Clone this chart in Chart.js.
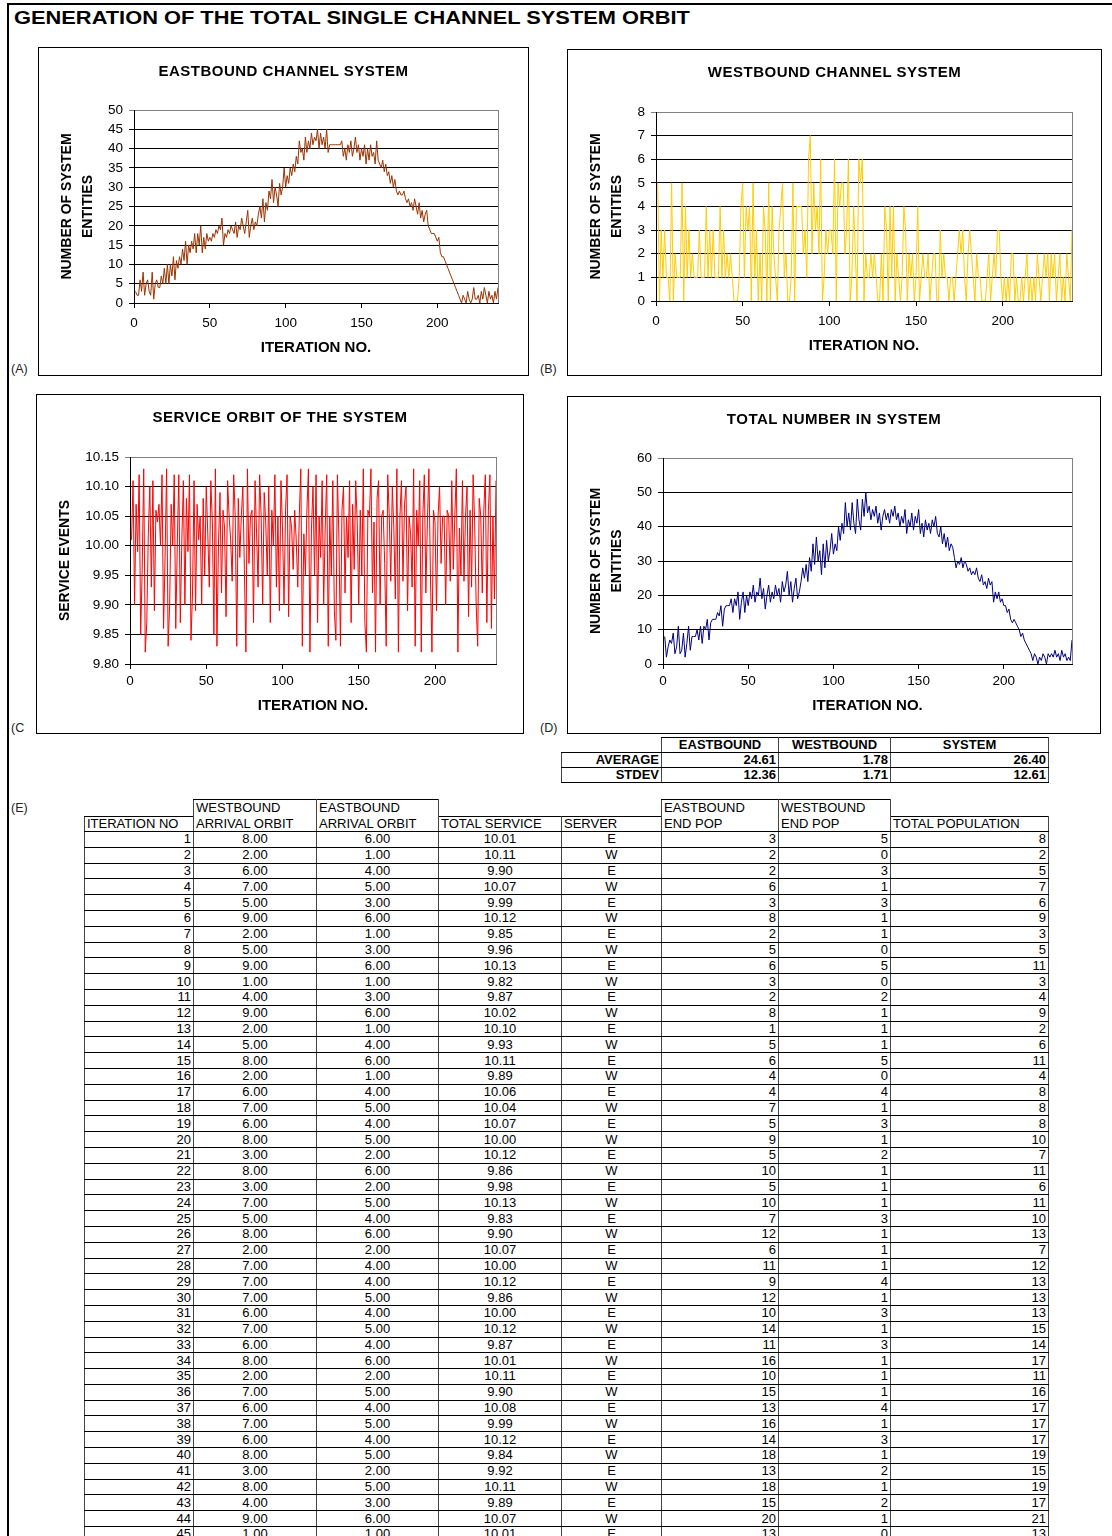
<!DOCTYPE html>
<html>
<head>
<meta charset="utf-8">
<script src="https://cdn.jsdelivr.net/npm/chart.js@4.4.1/dist/chart.umd.min.js"></script>
<style>
html, body { margin:0; padding:0; background:#fff; }
body { width:1112px; height:1536px; position:relative; overflow:hidden; font-family:"Liberation Sans", Arial, sans-serif; color:#000; }
.frame { position:absolute; left:7px; top:3px; width:1200px; height:1700px; border-left:2px solid #000; border-top:2px solid #000; }
.page-title { position:absolute; left:14px; top:6px; font-weight:bold; font-size:18.5px; line-height:24px; transform:scaleX(1.18); transform-origin:left center; white-space:nowrap; }
.box { position:absolute; border:1px solid #000; box-sizing:border-box; background:#fff; }
.box canvas { position:absolute; left:0; top:0; }
.ctitle { position:absolute; left:0; width:100%; text-align:center; font-weight:bold; font-size:15px; line-height:18px; letter-spacing:0.5px; white-space:nowrap; }
.tag { position:absolute; font-size:12.5px; line-height:14px; color:#222; }
table { position:absolute; border-collapse:collapse; table-layout:fixed; font-size:13px; }
td { padding:0 2px; line-height:14px; white-space:nowrap; overflow:hidden; vertical-align:middle;
     border-top:1px solid #000; border-bottom:1px solid #000; border-left:1px solid #444; border-right:1px solid #444; }
td.nb { border:none; }
td.hd { text-align:left; vertical-align:bottom; }
td.hd2 { line-height:15.5px; }
td.r { text-align:right; }
td.c { text-align:center; }
#tbl tr.d { height:15.8px; }
#tbl tr.h1 { height:17px; }
#tbl tr.h2 { height:15px; }
#stats { font-weight:bold; }
#stats tr { height:15px; }
</style>
</head>
<body>
<div class="frame"></div>
<div class="page-title">GENERATION OF THE TOTAL SINGLE CHANNEL SYSTEM ORBIT</div>
<div class="tag" style="left:11px;top:362px">(A)</div>
<div class="tag" style="left:540px;top:362px">(B)</div>
<div class="tag" style="left:11px;top:721px">(C</div>
<div class="tag" style="left:540px;top:721px">(D)</div>
<div class="tag" style="left:11px;top:801px">(E)</div>
<table id="stats"></table>
<table id="tbl"></table>
<script>
// ----- axis ticks -----
const xTicks = [0, 50, 100, 150, 200];
const eastTicks = [0, 5, 10, 15, 20, 25, 30, 35, 40, 45, 50];
const westTicks = [0, 1, 2, 3, 4, 5, 6, 7, 8];
const serviceTicks = [9.80, 9.85, 9.90, 9.95, 10.00, 10.05, 10.10, 10.15];
const totalTicks = [0, 10, 20, 30, 40, 50, 60];

// ----- series, iterations 1..240 -----
const eastPop = [
  3,2,2,6,3,8,2,5,6,3, 2,8,1,5,6,4,4,7,5,9, 5,10,5,10,7,12,6,11,9,12, 10,14,11,16,10,15,13,16,14,18,
  13,18,15,20,13,17,14,18,16,17, 16,18,17,19,18,20,19,22,15,18, 17,19,18,20,19,18,21,17,20,19, 22,20,18,21,24,17,20,22,19,21,
  20,23,25,22,27,21,26,24,29,27, 32,26,30,28,25,31,28,30,35,30, 33,31,35,33,36,34,38,36,42,39, 40,37,43,39,42,40,44,41,43,42,
  45,40,44,41,43,40,45,39,41,41, 41,41,41,41,41,41,42,38,40,37, 41,39,42,38,40,43,39,41,37,40, 38,41,36,40,37,41,38,39,36,42,
  37,36,35,37,34,36,33,34,31,33, 30,32,29,28,29,28,28,29,27,26, 27,25,26,24,27,25,23,26,22,24, 21,23,24,20,19,18,18,18,17,16,
  17,13,12,12,11,10,9,8,7,6, 5,4,3,2,1,0,2,1,0,3, 1,0,1,4,1,1,2,0,3,1, 4,2,0,3,1,2,0,3,1,4
];
const westPop = [
  5,0,3,1,3,1,1,0,5,0, 2,1,1,1,5,0,4,1,3,1, 2,1,1,1,3,1,1,1,4,1, 3,1,3,1,1,1,4,1,3,1,
  2,1,2,1,0,0,0,1,4,5, 1,4,3,4,0,5,1,3,0,2, 0,4,3,0,5,0,4,2,1,0, 3,4,5,1,2,0,0,1,5,0,
  4,4,4,4,2,3,1,6,7,2, 5,3,4,2,6,0,1,3,2,3, 3,2,6,0,5,4,5,5,2,3, 6,0,1,4,2,0,6,5,6,0,
  2,1,1,2,1,2,1,0,0,2, 0,4,3,0,4,1,4,0,2,1, 0,1,4,3,0,2,1,2,0,1, 4,0,1,2,1,1,2,0,1,2,
  2,0,0,3,1,2,1,1,0,1, 1,0,1,2,3,2,3,1,0,2, 3,2,1,0,2,1,1,0,0,0, 1,2,0,1,2,1,3,3,1,0,
  1,0,1,0,2,2,0,1,0,0, 1,0,1,2,0,1,0,1,0,2, 1,0,1,2,1,2,0,2,1,2, 0,1,2,0,1,0,2,1,0,3
];
const totalService = [
  10.01,10.11,9.90,10.07,9.99,10.12,9.85,9.96,10.13,9.82, 9.87,10.02,10.10,9.93,10.11,9.89,10.06,10.04,10.07,10.00,
  10.12,9.86,9.98,10.13,9.83,9.90,10.07,10.00,10.12,9.86, 10.00,10.12,9.87,10.01,10.11,9.90,10.08,9.99,10.12,9.84,
  9.92,10.11,9.89,10.07,10.01,10.05,9.90,10.08,9.95,10.10, 10.02,9.93,10.11,10.04,9.85,10.13,9.83,10.00,10.09,9.92,
  10.06,10.03,9.88,10.11,10.05,10.01,9.94,10.12,10.05,9.83, 10.08,9.98,10.05,10.10,9.96,9.82,10.13,9.97,10.05,10.06,
  9.87,10.11,10.02,9.93,10.12,10.05,9.90,10.09,10.04,9.95, 10.10,9.87,10.06,10.00,10.12,9.93,10.05,9.89,10.11,10.03,
  9.90,10.06,10.12,9.88,10.05,10.03,9.96,10.06,10.01,9.93, 10.05,10.13,9.83,10.02,9.95,10.06,10.13,9.82,10.03,10.10,
  9.95,10.12,9.87,10.05,9.98,10.11,9.90,10.03,10.12,9.83, 10.05,9.95,10.11,9.89,9.84,10.12,10.01,9.83,10.06,10.10,
  9.92,10.05,9.98,10.11,9.87,10.07,9.96,10.11,10.04,9.90, 10.06,9.95,10.13,9.87,9.82,10.06,10.05,10.13,9.92,10.04,
  9.82,10.08,10.11,9.90,10.05,10.06,9.97,9.83,10.12,10.05, 9.94,10.10,10.03,9.91,10.13,9.82,10.05,10.11,9.94,10.07,
  10.10,9.89,10.05,10.02,9.93,10.13,9.83,10.06,10.00,10.11, 9.82,10.05,10.12,9.92,10.04,10.13,9.95,9.82,10.06,10.04,
  9.89,10.05,10.10,9.97,10.05,10.05,9.90,10.06,10.05,9.94, 10.11,9.96,10.05,10.13,9.82,10.03,9.95,10.11,9.94,10.05,
  10.10,9.88,10.06,9.93,10.12,10.04,9.90,9.83,10.08,10.05, 9.92,10.06,10.12,9.87,10.06,10.12,9.86,10.05,9.91,10.11
];
const totalPop = [
  8,2,5,7,6,9,3,5,11,3, 4,9,2,6,11,4,8,8,8,10, 7,11,6,11,10,13,7,12,13,13, 13,15,14,17,11,16,17,17,17,19,
  15,19,17,21,13,18,21,15,20,17, 21,19,23,18,21,20,25,19,22,16, 20,23,18,21,19,23,20,22,18,24, 21,23,27,20,24,18,22,25,19,21,
  24,28,25,29,24,31,27,35,29,37, 30,33,26,35,28,36,30,33,38,32, 35,33,40,36,41,38,47,40,44,39, 47,41,38,48,42,39,48,43,50,44,
  46,42,45,43,46,41,44,39,43,45, 42,44,41,45,43,46,42,44,40,43, 41,45,38,42,40,44,39,43,41,45, 38,41,37,42,39,41,38,42,40,43,
  38,37,40,35,38,34,37,33,35,34, 31,28,30,29,31,28,30,29,27,28, 26,27,26,28,25,24,26,23,24,22, 25,23,24,18,21,19,21,18,19,17,
  17,15,16,13,12,13,12,11,10,8, 9,7,6,5,4,3,1,3,2,0, 2,1,3,2,0,3,2,3,2,4, 2,3,1,4,2,3,1,2,1,7
];

// ----- table (E), iterations 1..45 -----
const westArrival = [8,2,6,7,5,9,2,5,9,1, 4,9,2,5,8,2,6,7,6,8, 3,8,3,7,5,8,2,7,7,7, 6,7,6,8,2,7,6,7,6,8, 3,8,4,9,1];
const eastArrival = [6,1,4,5,3,6,1,3,6,1, 3,6,1,4,6,1,4,5,4,5, 2,6,2,5,4,6,2,4,4,5, 4,5,4,6,2,5,4,5,4,5, 2,5,3,6,1];
const server = 'EWEWEWEWEW' + 'EWEWEWEWEW' + 'EWEWEWEWEW' + 'EWEWEWEWEW' + 'EWEWE';

// ----- summary table -----
const statCols = ['EASTBOUND', 'WESTBOUND', 'SYSTEM'];
const statAverage = [24.61, 1.78, 26.40];
const statStdev = [12.36, 1.71, 12.61];

Chart.defaults.font.family = '"Liberation Sans", Arial, sans-serif';
Chart.defaults.color = '#000';

// gray right edge of the plot area
const frameRight = {
  id: 'frameRight',
  beforeDatasetsDraw(chart) {
    const {ctx, chartArea: a} = chart;
    ctx.save();
    ctx.strokeStyle = '#808080';
    ctx.lineWidth = 1;
    ctx.beginPath();
    ctx.moveTo(Math.round(a.right) + 0.5, a.top);
    ctx.lineTo(Math.round(a.right) + 0.5, a.bottom);
    ctx.stroke();
    ctx.restore();
  }
};

const panels = [
  {title: 'EASTBOUND CHANNEL SYSTEM', titleY: 71, box: [38, 47, 528, 375], plot: [134, 110, 498, 303],
   values: eastPop, color: '#993300', yTicks: eastTicks, yTitle: ['NUMBER OF SYSTEM', 'ENTITIES'], xLabPad: 7, xTitlePad: 18},
  {title: 'WESTBOUND CHANNEL SYSTEM', titleY: 72, box: [567, 49, 1101, 375], plot: [656, 112, 1072, 301],
   values: westPop, color: '#FFCC00', yTicks: westTicks, yTitle: ['NUMBER OF SYSTEM', 'ENTITIES'], xLabPad: 7, xTitlePad: 20},
  {title: 'SERVICE ORBIT OF THE SYSTEM', titleY: 417, box: [36, 394, 523, 733], plot: [130, 457, 496, 664],
   values: totalService, color: '#FF0000', yTicks: serviceTicks, yTitle: 'SERVICE EVENTS', xLabPad: 4.5, xTitlePad: 18, fixed: 2},
  {title: 'TOTAL NUMBER IN SYSTEM', titleY: 419, box: [567, 396, 1100, 733], plot: [663, 458, 1072, 664],
   values: totalPop, color: '#000080', yTicks: totalTicks, yTitle: ['NUMBER OF SYSTEM', 'ENTITIES'], xLabPad: 4.5, xTitlePad: 18}
];

panels.forEach(p => {
  const [L, T, R, B] = p.box;
  const [pl, pt, pr, pb] = p.plot;
  const yMax = p.yTicks[p.yTicks.length - 1];

  const box = document.createElement('div');
  box.className = 'box';
  box.style.left = L + 'px';
  box.style.top = T + 'px';
  box.style.width = (R - L + 1) + 'px';
  box.style.height = (B - T + 1) + 'px';
  const cv = document.createElement('canvas');
  cv.width = R - L - 1;
  cv.height = B - T - 1;
  const t = document.createElement('div');
  t.className = 'ctitle';
  t.textContent = p.title;
  t.style.top = (p.titleY - T - 1 - 9) + 'px';
  box.append(cv, t);
  document.body.appendChild(box);

  new Chart(cv, {
    type: 'line',
    data: {
      datasets: [{
        data: p.values.map((v, i) => ({x: i + 1, y: v})),
        borderColor: p.color,
        borderWidth: 1,
        pointRadius: 0,
        tension: 0,
        fill: false
      }]
    },
    options: {
      responsive: false,
      animation: false,
      events: [],
      layout: {padding: {top: pt - T - 1, right: R - pr, left: 0, bottom: 0}},
      plugins: {legend: {display: false}, tooltip: {enabled: false}},
      scales: {
        x: {
          type: 'linear', min: 0, max: 240,
          afterBuildTicks: s => { s.ticks = xTicks.map(v => ({value: v})); },
          afterFit: s => { s.height = B - pb; },
          grid: {drawOnChartArea: false, drawTicks: true, tickLength: 5, color: '#000'},
          border: {display: true, color: '#000'},
          ticks: {font: {size: 13.5}, color: '#000', padding: p.xLabPad, maxRotation: 0},
          title: {display: true, text: 'ITERATION NO.', color: '#000',
                  font: {size: 15, weight: 'bold', lineHeight: 1.2}, padding: {top: 0, bottom: p.xTitlePad}}
        },
        y: {
          type: 'linear', min: p.yTicks[0], max: yMax,
          afterBuildTicks: s => { s.ticks = p.yTicks.map(v => ({value: v})); },
          afterFit: s => { s.width = pl - L - 1; },
          grid: {color: c => (c.tick && c.tick.value === yMax) ? '#808080' : '#000', drawTicks: true, tickLength: 5},
          border: {display: true, color: '#000'},
          ticks: {font: {size: 13.5}, color: '#000', padding: 6,
                  callback: v => p.fixed ? Number(v).toFixed(p.fixed) : v},
          title: {display: true, text: p.yTitle, color: '#000',
                  font: {size: 14, weight: 'bold', lineHeight: 1.5}, padding: {top: 18, bottom: 0}}
        }
      }
    },
    plugins: [frameRight]
  });
});

// ----- summary table -----
const stats = document.getElementById('stats');
stats.style.left = '561px';
stats.style.top = '737px';
let sh = '<colgroup><col style="width:100px"><col style="width:117px"><col style="width:112px"><col style="width:158px"></colgroup>';
sh += '<tr><td class="nb"></td>' + statCols.map(c => `<td class="c">${c}</td>`).join('') + '</tr>';
sh += '<tr><td class="r">AVERAGE</td>' + statAverage.map(v => `<td class="r">${v.toFixed(2)}</td>`).join('') + '</tr>';
sh += '<tr><td class="r">STDEV</td>' + statStdev.map(v => `<td class="r">${v.toFixed(2)}</td>`).join('') + '</tr>';
stats.innerHTML = sh;

// ----- data table (E) -----
const tbl = document.getElementById('tbl');
tbl.style.left = '84px';
tbl.style.top = '799px';
const colW = [109, 123, 122, 123, 100, 117, 112, 158];
let h = '<colgroup>' + colW.map(w => `<col style="width:${w}px">`).join('') + '</colgroup>';
h += '<tr class="h1"><td class="nb"></td><td rowspan="2" class="hd hd2">WESTBOUND<br>ARRIVAL ORBIT</td>' +
     '<td rowspan="2" class="hd hd2">EASTBOUND<br>ARRIVAL ORBIT</td><td class="nb"></td><td class="nb"></td>' +
     '<td rowspan="2" class="hd hd2">EASTBOUND<br>END POP</td><td rowspan="2" class="hd hd2">WESTBOUND<br>END POP</td><td class="nb"></td></tr>';
h += '<tr class="h2"><td class="hd">ITERATION NO</td><td class="hd">TOTAL SERVICE</td><td class="hd">SERVER</td><td class="hd">TOTAL POPULATION</td></tr>';
for (let i = 0; i < westArrival.length; i++) {
  h += '<tr class="d">' +
    `<td class="r">${i + 1}</td>` +
    `<td class="c">${westArrival[i].toFixed(2)}</td>` +
    `<td class="c">${eastArrival[i].toFixed(2)}</td>` +
    `<td class="c">${totalService[i].toFixed(2)}</td>` +
    `<td class="c">${server[i]}</td>` +
    `<td class="r">${eastPop[i]}</td>` +
    `<td class="r">${westPop[i]}</td>` +
    `<td class="r">${totalPop[i]}</td></tr>`;
}
tbl.innerHTML = h;
</script>
</body>
</html>
